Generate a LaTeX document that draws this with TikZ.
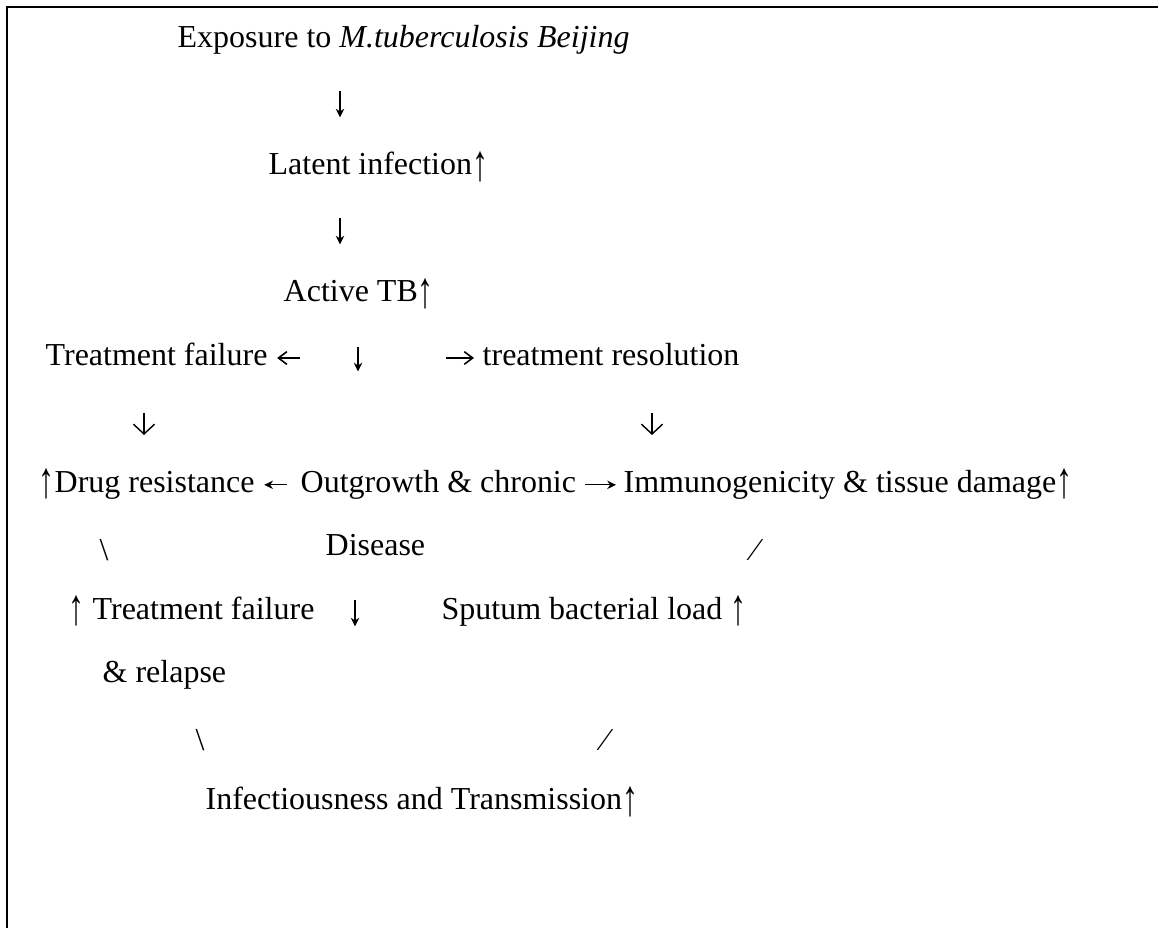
\documentclass[tikz,border=0pt]{standalone}
\usepackage{fontspec}
\setmainfont{Liberation Serif}
\usepackage{graphicx}
\usepackage{tikz}
\usetikzlibrary{arrows.meta,positioning}

% tall thin up arrow used inside the texts
\newcommand{\upar}{\raisebox{-0.16em}{\scalebox{1}[1.6]{↑}}}

\begin{document}
\begin{tikzpicture}[
    txt/.style={anchor=base west, inner sep=0pt, font=\fontsize{9.1}{11}\selectfont},
    glyph/.style={inner sep=0pt, font=\fontsize{9.1}{11}\selectfont},
    tarrow/.style={-{Stealth[length=2.5pt,width=2.4pt]}, line width=0.35pt},
    oarrow/.style={-{Straight Barb[length=2.4pt,width=3.6pt]}, line width=0.45pt},
    warrow/.style={-{Straight Barb[length=2.8pt,width=6pt]}, line width=0.4pt},
    frame/.style={line width=0.6pt}
]
    \useasboundingbox (0,0) rectangle (11.58,-9.28);
    \draw[frame] (0.07,-9.28) -- (0.07,-0.07) -- (11.58,-0.07);

    % exposure to active disease
    \node[txt] (expo) at (1.77,-0.48) {Exposure to \textit{M.tuberculosis Beijing}};
    \node[txt] (latent) at (2.68,-1.75) {Latent infection\upar};
    \node[txt] (active) at (2.83,-3.02) {Active TB\upar};
    \coordinate (d1a) at (3.40,-0.915);
    \coordinate (d1b) at (3.40,-1.175);
    \coordinate (d2a) at (3.40,-2.185);
    \coordinate (d2b) at (3.40,-2.445);
    \draw[tarrow] (d1a) -- (d1b);
    \draw[tarrow] (d2a) -- (d2b);

    % treatment branches
    \node[txt] (tfail) at (0.45,-3.655) {Treatment failure};
    \node[txt] (tres) at (4.82,-3.655) {treatment resolution};
    \coordinate (tla) at (3.00,-3.58);
    \coordinate (tra) at (4.46,-3.58);
    \coordinate (d3a) at (3.58,-3.475);
    \coordinate (d3b) at (3.58,-3.715);
    \draw[oarrow, shorten >=0.09cm] (tla) -- (tfail.east |- tla);
    \draw[oarrow, shorten >=0.08cm] (tra) -- (tres.west |- tra);
    \draw[tarrow] (d3a) -- (d3b);
    \coordinate (d4a) at (1.44,-4.13);
    \coordinate (d4b) at (1.44,-4.35);
    \coordinate (d5a) at (6.52,-4.13);
    \coordinate (d5b) at (6.52,-4.35);
    \draw[warrow] (d4a) -- (d4b);
    \draw[warrow] (d5a) -- (d5b);

    % chronic disease row
    \node[txt] (drug) at (0.38,-4.925) {\upar Drug resistance};
    \node[txt] (outg) at (3.00,-4.925) {Outgrowth \& chronic};
    \node[txt] (immu) at (6.23,-4.925) {Immunogenicity \& tissue damage\upar};
    \draw[tarrow, shorten <=0.13cm, shorten >=0.09cm] (outg.west) -- (drug.east |- outg.west);
    \draw[tarrow, shorten <=0.08cm, shorten >=0.07cm] (outg.east) -- (immu.west |- outg.east);
    \node[glyph] (s1) at (1.04,-5.50) {\textbackslash};
    \node[txt] (dis) at (3.25,-5.56) {Disease};
    \node[glyph] (s2) at (7.55,-5.50) {∕};

    % consequences
    \node[txt] (tf2) at (0.68,-6.195) {\upar\ Treatment failure};
    \node[txt] (sput) at (4.41,-6.195) {Sputum bacterial load \upar};
    \coordinate (d6a) at (3.55,-6.005);
    \coordinate (d6b) at (3.55,-6.265);
    \draw[tarrow] (d6a) -- (d6b);
    \node[txt] (relapse) at (1.02,-6.83) {\& relapse};
    \node[glyph] (s3) at (2.00,-7.40) {\textbackslash};
    \node[glyph] (s4) at (6.05,-7.40) {∕};
    \node[txt] (infect) at (2.05,-8.10) {Infectiousness and Transmission\upar};
\end{tikzpicture}
\end{document}
